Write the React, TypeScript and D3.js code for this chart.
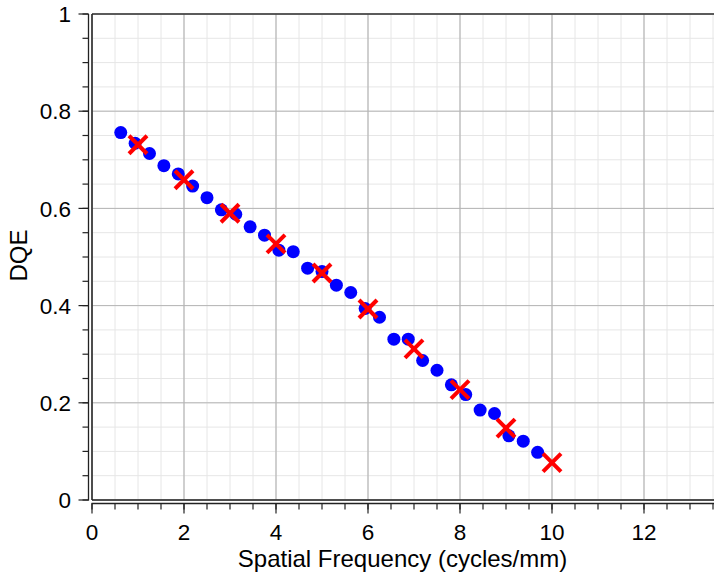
import React, { useEffect, useRef } from "react";
import * as d3 from "d3";

const blueX = [0.625, 0.9375, 1.25, 1.5625, 1.875, 2.1875, 2.5, 2.8125, 3.125, 3.4375, 3.75, 4.0625, 4.375, 4.6875, 5.0, 5.3125, 5.625, 5.9375, 6.25, 6.5625, 6.875, 7.1875, 7.5, 7.8125, 8.125, 8.4375, 8.75, 9.0625, 9.375, 9.6875];
const blueY = [0.756, 0.734, 0.713, 0.688, 0.671, 0.646, 0.622, 0.597, 0.588, 0.562, 0.545, 0.514, 0.511, 0.477, 0.470, 0.442, 0.427, 0.394, 0.376, 0.331, 0.331, 0.287, 0.267, 0.237, 0.217, 0.185, 0.178, 0.132, 0.121, 0.098];
const redX = [1, 2, 3, 4, 5, 6, 7, 8, 9, 10];
const redY = [0.731, 0.659, 0.590, 0.527, 0.467, 0.393, 0.311, 0.227, 0.148, 0.077];
const xTicks = [0, 2, 4, 6, 8, 10, 12];
const yTicks = [0, 0.2, 0.4, 0.6, 0.8, 1];

const W = 714, H = 573;
const FONT = "'Liberation Sans', Arial, Helvetica, sans-serif";

export default function App() {
  const ref = useRef<SVGSVGElement>(null);
  useEffect(() => {
    const svg = d3.select(ref.current);
    svg.selectAll("*").remove();
    const left = 92, top = 14, bottom = 500;
    const x = d3.scaleLinear().domain([0, 14]).range([left, left + 14 * 46]);
    const y = d3.scaleLinear().domain([0, 1]).range([bottom, top]);
    const right = W + 2;

    const g = svg.append("g");
    const xMinor = d3.range(0, 28).map((i) => i * 0.5);
    const yMinor = d3.range(0, 21).map((i) => i * 0.05);
    g.selectAll(".xm").data(xMinor).enter().append("line")
      .attr("x1", (d) => x(d)).attr("x2", (d) => x(d)).attr("y1", top).attr("y2", bottom)
      .attr("stroke", "#e6e6e6").attr("stroke-width", 1);
    g.selectAll(".ym").data(yMinor).enter().append("line")
      .attr("x1", left).attr("x2", right).attr("y1", (d) => y(d)).attr("y2", (d) => y(d))
      .attr("stroke", "#e6e6e6").attr("stroke-width", 1);
    g.selectAll(".xM").data(xTicks).enter().append("line")
      .attr("x1", (d) => x(d)).attr("x2", (d) => x(d)).attr("y1", top).attr("y2", bottom)
      .attr("stroke", "#ababab").attr("stroke-width", 1);
    g.selectAll(".yM").data(yTicks).enter().append("line")
      .attr("x1", left).attr("x2", right).attr("y1", (d) => y(d)).attr("y2", (d) => y(d))
      .attr("stroke", "#b5b5b5").attr("stroke-width", 1);

    g.append("line").attr("x1", left).attr("x2", right).attr("y1", top).attr("y2", top)
      .attr("stroke", "#333").attr("stroke-width", 1.5);
    g.append("line").attr("x1", left).attr("x2", right).attr("y1", bottom).attr("y2", bottom)
      .attr("stroke", "#222").attr("stroke-width", 1.5);
    g.append("line").attr("x1", left).attr("x2", left).attr("y1", top).attr("y2", bottom)
      .attr("stroke", "#222").attr("stroke-width", 1.5);

    const ax = 88.5;
    g.append("line").attr("x1", ax).attr("x2", ax).attr("y1", top).attr("y2", bottom + 0.5)
      .attr("stroke", "#222").attr("stroke-width", 1.3);
    g.selectAll(".ytm").data(yMinor).enter().append("line")
      .attr("x1", ax - 6).attr("x2", ax).attr("y1", (d) => y(d)).attr("y2", (d) => y(d))
      .attr("stroke", "#222").attr("stroke-width", 1.2);
    g.selectAll(".ytM").data(yTicks).enter().append("line")
      .attr("x1", ax - 10).attr("x2", ax).attr("y1", (d) => y(d)).attr("y2", (d) => y(d))
      .attr("stroke", "#222").attr("stroke-width", 1.2);
    g.selectAll(".ytl").data(yTicks).enter().append("text")
      .attr("x", 71).attr("y", (d) => y(d)).attr("dy", "0.36em")
      .attr("text-anchor", "end").attr("font-family", FONT).attr("font-size", 22.5)
      .attr("fill", "#000").text((d) => d3.format("~g")(d));

    const ay = 503.5;
    g.append("line").attr("x1", left - 0.5).attr("x2", right).attr("y1", ay).attr("y2", ay)
      .attr("stroke", "#222").attr("stroke-width", 1.3);
    g.selectAll(".xtm").data(xMinor).enter().append("line")
      .attr("x1", (d) => x(d)).attr("x2", (d) => x(d)).attr("y1", ay).attr("y2", ay + 6)
      .attr("stroke", "#222").attr("stroke-width", 1.2);
    g.selectAll(".xtM").data(xTicks).enter().append("line")
      .attr("x1", (d) => x(d)).attr("x2", (d) => x(d)).attr("y1", ay).attr("y2", ay + 10)
      .attr("stroke", "#222").attr("stroke-width", 1.2);
    g.selectAll(".xtl").data(xTicks).enter().append("text")
      .attr("x", (d) => x(d)).attr("y", 540)
      .attr("text-anchor", "middle").attr("font-family", FONT).attr("font-size", 22.5)
      .attr("fill", "#000").text((d) => String(d));

    g.append("text").attr("x", 402.5).attr("y", 567).attr("text-anchor", "middle")
      .attr("font-family", FONT).attr("font-size", 24).attr("fill", "#000")
      .text("Spatial Frequency (cycles/mm)");
    g.append("text").attr("transform", "translate(27,255.5) rotate(-90)").attr("text-anchor", "middle")
      .attr("font-family", FONT).attr("font-size", 24).attr("fill", "#000").text("DQE");

    const blue = blueX.map((v, i) => ({ x: v, y: blueY[i] }));
    const red = redX.map((v, i) => ({ x: v, y: redY[i] }));
    g.selectAll(".b").data(blue).enter().append("circle")
      .attr("cx", (d) => x(d.x)).attr("cy", (d) => y(d.y)).attr("r", 6.5).attr("fill", "#0000ff");
    const s = 9;
    const rg = g.selectAll(".r").data(red).enter().append("g")
      .attr("transform", (d) => `translate(${x(d.x)},${y(d.y)})`);
    rg.append("line").attr("x1", -s).attr("y1", -s).attr("x2", s).attr("y2", s)
      .attr("stroke", "#ff0000").attr("stroke-width", 4);
    rg.append("line").attr("x1", -s).attr("y1", s).attr("x2", s).attr("y2", -s)
      .attr("stroke", "#ff0000").attr("stroke-width", 4);
  }, []);
  return (
    <svg ref={ref} width={W} height={H}
      style={{ position: "absolute", left: 0, top: 0, background: "#fff" }} />
  );
}
